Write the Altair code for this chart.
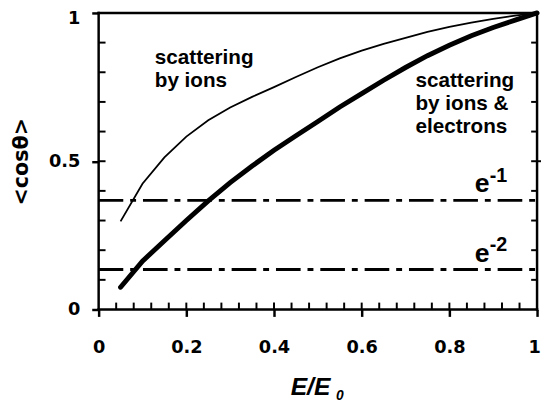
import altair as alt
import pandas as pd

# --- data ---
energy = [0.05, 0.10, 0.15, 0.20, 0.25, 0.30, 0.35, 0.40, 0.45, 0.50,
          0.55, 0.60, 0.65, 0.70, 0.75, 0.80, 0.85, 0.90, 0.95, 1.00]
cos_ions = [0.297, 0.424, 0.513, 0.583, 0.638, 0.681, 0.717, 0.750, 0.784, 0.817,
            0.847, 0.873, 0.896, 0.916, 0.936, 0.953, 0.967, 0.980, 0.991, 1.000]
cos_ions_electrons = [0.075, 0.163, 0.232, 0.300, 0.366, 0.428, 0.484, 0.537, 0.586, 0.634,
                      0.683, 0.728, 0.773, 0.816, 0.856, 0.891, 0.923, 0.951, 0.976, 1.000]
ref_levels = [0.368, 0.135]          # e^-1, e^-2

x_tick_values = [0, 0.2, 0.4, 0.6, 0.8, 1]
y_tick_values = [0, 0.5, 1]
x_minor = [round(0.04 * k, 2) for k in range(1, 25)]
y_minor = [round(0.1 * k, 1) for k in range(1, 10)]

ann_text = ["scattering\nby ions", "scattering\nby ions &\nelectrons"]
ann_x = [0.128, 0.7225]
ann_y = [0.827, 0.751]

e_text = ["e", "e"]
e_x = [0.858, 0.858]
e_y = [0.395, 0.159]
sup_text = ["-1", "-2"]
sup_x = [0.892, 0.892]
sup_y = [0.430, 0.197]

W, H = 445, 301
LX = 7.0 / H
LY = 7.0 / W
LR = 6.0 / W
XS = alt.Scale(domain=[0, 1], nice=False, zero=False)
YS = alt.Scale(domain=[0, 1], nice=False, zero=False)
LBL = "datum.value == 0 ? '0' : datum.value == 1 ? '1' : format(datum.value, '.1f')"

curves = pd.DataFrame({"x": energy, "ions": cos_ions, "both": cos_ions_electrons})

x_axis = alt.Axis(orient="bottom", values=x_tick_values, labelExpr=LBL, tickSize=7, tickWidth=2.5,
                  labelFont="DejaVu Sans", labelFontWeight="bold", labelFontSize=18,
                  labelColor="black", labelPadding=23, labelFlush=False, labelOverlap=False,
                  labelBound=False,
                  labelOffset={"condition": {"test": "datum.value == 1", "value": -3}, "value": 0},
                  grid=False, domain=False, tickColor="black", title=None)
y_axis = alt.Axis(orient="left", values=y_tick_values, labelExpr=LBL, tickSize=7, tickWidth=2.5,
                  labelFont="DejaVu Sans", labelFontWeight="bold", labelFontSize=18,
                  labelColor="black", labelPadding=12, labelFlush=False, labelOverlap=False,
                  labelBound=False,
                  labelOffset={"condition": {"test": "datum.value == 1", "value": 6}, "value": 0},
                  grid=False, domain=False, tickColor="black",
                  title="<cosθ>", titleFont="DejaVu Sans", titleFontSize=21, titleFontWeight="bold",
                  titleColor="black", titleAngle=270, titleX=-78, titleY=150.5,
                  titleAlign="center", titleBaseline="middle")

thin = alt.Chart(curves).mark_line(color="black", strokeWidth=1.8).encode(
    x=alt.X("x:Q", scale=XS, axis=x_axis), y=alt.Y("ions:Q", scale=YS, axis=y_axis),
)
thick = alt.Chart(curves).mark_line(color="black", strokeWidth=5, strokeCap="round").encode(
    x=alt.X("x:Q", scale=XS, axis=None), y=alt.Y("both:Q", scale=YS, axis=None),
)

refs = alt.Chart(pd.DataFrame({"y": ref_levels, "x0": [0, 0], "x1": [1, 1]})).mark_rule(
    color="black", strokeWidth=3, strokeDash=[25, 7, 6, 7]
).encode(x=alt.X("x0:Q", scale=XS, axis=None), x2="x1:Q",
         y=alt.Y("y:Q", scale=YS, axis=None))

# frame of the plot
frame = alt.Chart(pd.DataFrame({
    "fx1": [0, 0, 0, 1], "fx2": [1, 1, 0, 1], "fy1": [0, 1, 0, 0], "fy2": [0, 1, 1, 1]
})).mark_rule(color="black", strokeWidth=2.5, strokeCap="square").encode(
    x=alt.X("fx1:Q", scale=XS, axis=None), x2="fx2:Q",
    y=alt.Y("fy1:Q", scale=YS, axis=None), y2="fy2:Q")

# minor (inward) ticks and the outward right tick at 0.5, as segments
seg_x1, seg_x2, seg_y1, seg_y2 = [], [], [], []
for v in x_minor:
    seg_x1.append(v); seg_x2.append(v); seg_y1.append(0.0); seg_y2.append(LX)
for v in y_minor:
    seg_x1.append(0.0); seg_x2.append(LY); seg_y1.append(v); seg_y2.append(v)
for v in y_minor:
    seg_x1.append(1.0); seg_x2.append(1 - LR); seg_y1.append(v); seg_y2.append(v)
seg_x1.append(1.0); seg_x2.append(1 + LY); seg_y1.append(0.5); seg_y2.append(0.5)

segs = alt.Chart(pd.DataFrame({"sx1": seg_x1, "sx2": seg_x2, "sy1": seg_y1, "sy2": seg_y2})).mark_rule(
    color="black", strokeWidth=2
).encode(x=alt.X("sx1:Q", scale=XS, axis=None), x2="sx2:Q",
         y=alt.Y("sy1:Q", scale=YS, axis=None), y2="sy2:Q")


def txt(df, size, style="normal", lb=False):
    kw = dict(font="Liberation Sans", fontSize=size, fontWeight="bold", fontStyle=style,
              align="left", baseline="alphabetic", color="black")
    if lb:
        kw.update(lineBreak="\n", lineHeight=23.5)
    return alt.Chart(df).mark_text(**kw).encode(
        x=alt.X("x:Q", scale=XS, axis=None), y=alt.Y("y:Q", scale=YS, axis=None), text="t:N")


ann = txt(pd.DataFrame({"t": ann_text, "x": ann_x, "y": ann_y}), 21, lb=True)
e_lab = txt(pd.DataFrame({"t": e_text, "x": e_x, "y": e_y}), 27)
sup_lab = txt(pd.DataFrame({"t": sup_text, "x": sup_x, "y": sup_y}), 20)
xt_main = txt(pd.DataFrame({"t": ["E/E"], "x": [0.438], "y": [-0.289]}), 25, "italic")
xt_sub = txt(pd.DataFrame({"t": ["0"], "x": [0.5416], "y": [-0.3056]}), 14, "italic")

chart = alt.layer(
    thin, thick, refs, frame, segs, ann, e_lab, sup_lab, xt_main, xt_sub
).resolve_axis(
    x="independent", y="independent"
).properties(
    width=W, height=H,
    autosize=alt.AutoSizeParams(type="none"),
    padding={"left": 92, "top": 2, "right": 4, "bottom": 100},
)

chart.save("out.html", embed_options={"renderer": "svg", "actions": False})
